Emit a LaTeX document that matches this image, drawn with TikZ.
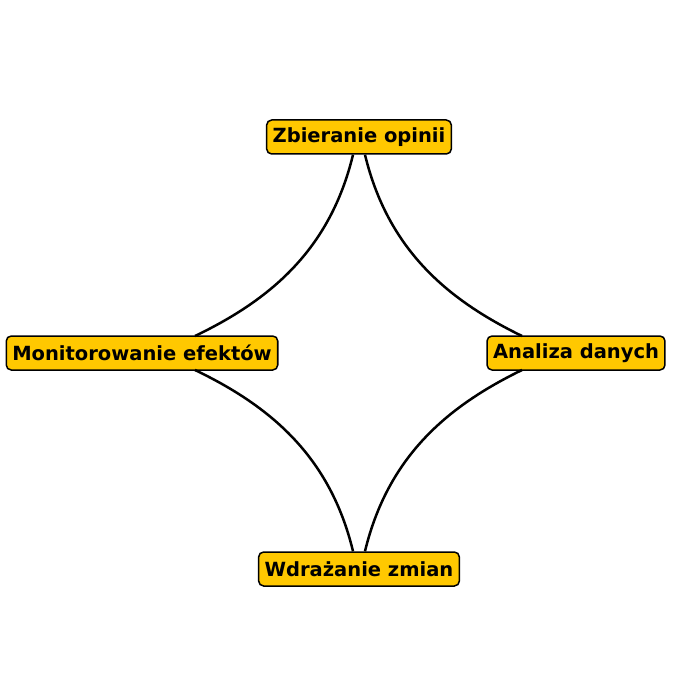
\documentclass[tikz,border=0pt]{standalone}
\usepackage{fontspec}
\setmainfont{DejaVu Sans}
\usetikzlibrary{calc}
\definecolor{boxfill}{HTML}{FFC800}
\begin{document}
\begin{tikzpicture}[x=1pt,y=-1pt,
  box/.style={draw=black,line width=1.5pt,fill=boxfill,rounded corners=5pt,inner xsep=6pt,minimum height=34pt,font=\fontsize{19.5}{22}\selectfont\bfseries},
  arc/.style={draw=black,line width=2.5pt}]
\useasboundingbox (0,0) rectangle (700,700);
\node[box] (top) at (359,137) {Zbieranie opinii};
\node[box] (right) at (576,353) {Analiza danych};
\node[box] (bottom) at (359,569) {Wdrażanie zmian};
\node[box] (left) at (142,353) {Monitorowanie efektów};
\coordinate (t1) at ($(top.south)+(-6,0)$);
\coordinate (t2) at ($(top.south)+(6,0)$);
\coordinate (b1) at ($(bottom.north)+(-6,0)$);
\coordinate (b2) at ($(bottom.north)+(6,0)$);
\coordinate (l1) at (195,336);
\coordinate (l2) at (195,370);
\coordinate (r1) at (522,336);
\coordinate (r2) at (522,370);
\begin{scope}[on background layer/.style={}]
\path[arc] (t1) .. controls (330,250) and (270,300) .. (l1);
\path[arc] (t2) .. controls (388,250) and (448,300) .. (r1);
\path[arc] (b1) .. controls (330,456) and (270,406) .. (l2);
\path[arc] (b2) .. controls (388,456) and (448,406) .. (r2);
\end{scope}
\end{tikzpicture}
\end{document}
